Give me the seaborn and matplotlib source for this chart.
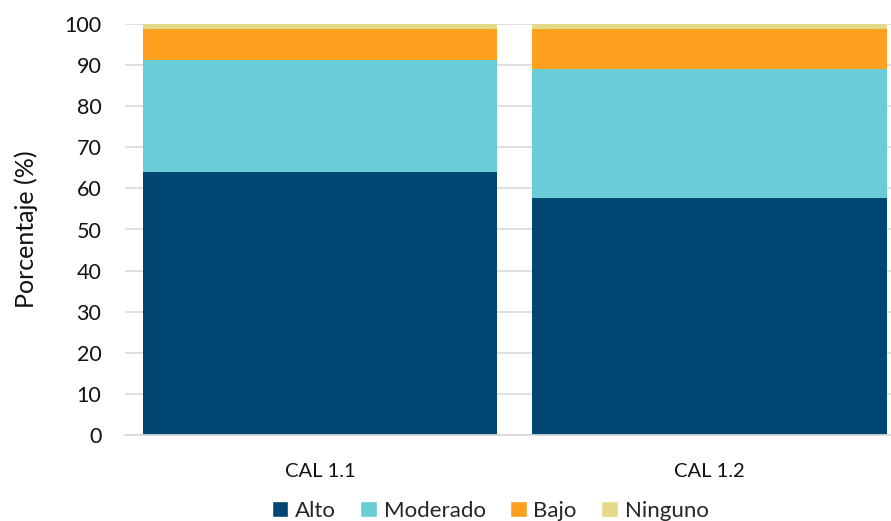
import numpy as np
import pandas as pd
import matplotlib
matplotlib.use("Agg")
import matplotlib.pyplot as plt
import seaborn as sns
from matplotlib.patches import Patch

# data
categorias = ["CAL 1.1", "CAL 1.2"]
niveles = ["Alto", "Moderado", "Bajo", "Ninguno"]
alto = [64.1, 57.7]
moderado = [27.1, 31.3]
bajo = [7.6, 9.8]
ninguno = [1.2, 1.2]
colores = ["#004673", "#6ACCD6", "#FFA01E", "#E4DA8A"]

sns.set_theme(style="white")
plt.rcParams["font.family"] = ["Lato", "DejaVu Sans"]

df = pd.DataFrame({"cat": categorias, "Alto": alto, "Moderado": moderado,
                   "Bajo": bajo, "Ninguno": ninguno})
cum = df[niveles].cumsum(axis=1)
cum["cat"] = df["cat"]

fig = plt.figure(figsize=(8.91, 5.21), dpi=100)
ax = fig.add_axes([125 / 891, 86 / 521, 779.5 / 891, 411 / 521])

# stacked bars: draw cumulative totals from top level down
for nivel, color in zip(niveles[::-1], colores[::-1]):
    sns.barplot(data=cum, x="cat", y=nivel, color=color, width=0.91,
                saturation=1, linewidth=0, ax=ax)

ax.set_xlim(-0.5, 1.5)
ax.set_ylim(0, 100)
ax.set_yticks(np.arange(0, 101, 10))
ax.yaxis.grid(True, color="#D9D9D9", linewidth=1.2)
ax.set_axisbelow(True)
for s in ["top", "right", "left"]:
    ax.spines[s].set_visible(False)
ax.spines["bottom"].set_color("#D9D9D9")
ax.tick_params(axis="y", length=0, labelsize=15.5, pad=17, labelcolor="#111111")
ax.tick_params(axis="x", length=0, labelsize=14.5, pad=20, labelcolor="#111111")
ax.set_xlabel("")
ax.set_ylabel("Porcentaje (%)", fontsize=18, labelpad=19, color="#111111")

handles = [Patch(facecolor=c, label=n) for n, c in zip(niveles, colores)]
fig.legend(handles=handles, loc="center", bbox_to_anchor=(0.55, 0.02), ncol=4,
           frameon=False, fontsize=16, handlelength=0.75, handleheight=0.75,
           handletextpad=0.3, columnspacing=1.1)

fig.savefig("out.png", dpi=100)
